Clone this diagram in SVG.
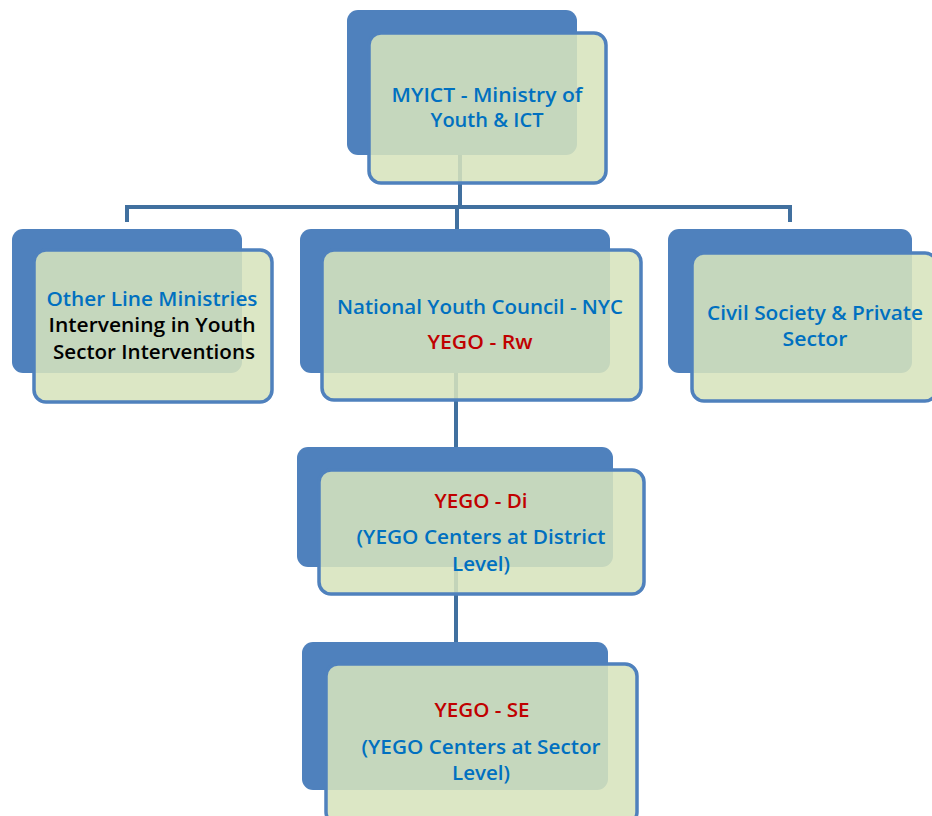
<svg xmlns="http://www.w3.org/2000/svg" width="932" height="816" viewBox="0 0 932 816">
<style>
.back{fill:#4f81bd}
.front{fill:#d7e3bc;fill-opacity:0.87;stroke:#4f81bd;stroke-width:3.5}
.conn{fill:none;stroke:#41709f;stroke-width:4}
text{font-family:"Open Sans","Liberation Sans",sans-serif;font-size:20px;font-weight:600;text-anchor:middle}
.b{fill:#0070c0}
.r{fill:#c00000}
.k{fill:#000000}
</style>
<rect width="932" height="816" fill="#ffffff"/>
<g id="connectors">
<path class="conn" d="M460 150 V207 M127 222 V207 H790 V222 M457 207 V230"/>
<path class="conn" d="M456 370 V450"/>
<path class="conn" d="M456 565 V645"/>
</g>
<g id="myict">
<rect class="back" x="347" y="10" width="230" height="145" rx="11"/>
<rect class="front" x="369" y="33" width="237" height="150" rx="12"/>
<text class="b" x="487" y="102" textLength="191" lengthAdjust="spacingAndGlyphs">MYICT - Ministry of</text>
<text class="b" x="487" y="127" textLength="113" lengthAdjust="spacingAndGlyphs">Youth &amp; ICT</text>
</g>
<g id="other-ministries">
<rect class="back" x="12" y="229" width="230" height="144" rx="11"/>
<rect class="front" x="34" y="250" width="238" height="152" rx="12"/>
<text class="b" x="152" y="306" textLength="211" lengthAdjust="spacingAndGlyphs">Other Line Ministries</text>
<text class="k" x="152" y="332" textLength="207" lengthAdjust="spacingAndGlyphs">Intervening in Youth</text>
<text class="k" x="154" y="359" textLength="202" lengthAdjust="spacingAndGlyphs">Sector Interventions</text>
</g>
<g id="nyc">
<rect class="back" x="300" y="229" width="310" height="144" rx="11"/>
<rect class="front" x="322" y="250" width="319" height="150" rx="12"/>
<text class="b" x="480" y="314" textLength="286" lengthAdjust="spacingAndGlyphs">National Youth Council - NYC</text>
<text class="r" x="480" y="349" textLength="105" lengthAdjust="spacingAndGlyphs">YEGO - Rw</text>
</g>
<g id="civil-society">
<rect class="back" x="668" y="229" width="244" height="144" rx="11"/>
<rect class="front" x="692" y="253" width="245" height="148" rx="12"/>
<text class="b" x="815" y="320" textLength="216" lengthAdjust="spacingAndGlyphs">Civil Society &amp; Private</text>
<text class="b" x="815" y="346" textLength="65" lengthAdjust="spacingAndGlyphs">Sector</text>
</g>
<g id="yego-di">
<rect class="back" x="297" y="447" width="316" height="120" rx="11"/>
<rect class="front" x="319" y="470" width="325" height="124" rx="12"/>
<text class="r" x="481" y="508" textLength="93" lengthAdjust="spacingAndGlyphs">YEGO - Di</text>
<text class="b" x="481" y="544" textLength="249" lengthAdjust="spacingAndGlyphs">(YEGO Centers at District</text>
<text class="b" x="481" y="571" textLength="58" lengthAdjust="spacingAndGlyphs">Level)</text>
</g>
<g id="yego-se">
<rect class="back" x="302" y="642" width="306" height="148" rx="11"/>
<rect class="front" x="326" y="664" width="311" height="160" rx="12"/>
<text class="r" x="482" y="717" textLength="95" lengthAdjust="spacingAndGlyphs">YEGO - SE</text>
<text class="b" x="481" y="754" textLength="239" lengthAdjust="spacingAndGlyphs">(YEGO Centers at Sector</text>
<text class="b" x="481" y="780" textLength="58" lengthAdjust="spacingAndGlyphs">Level)</text>
</g>
</svg>
